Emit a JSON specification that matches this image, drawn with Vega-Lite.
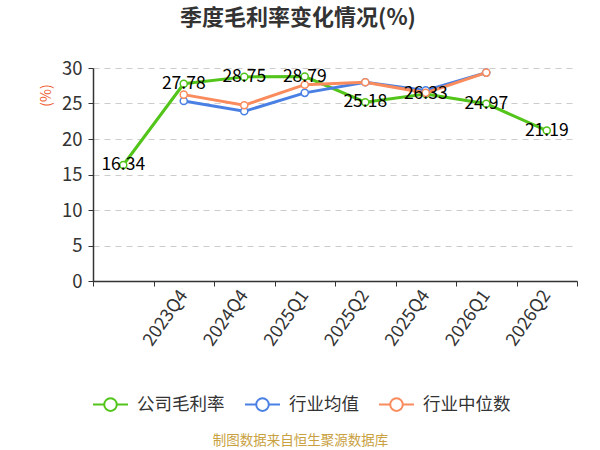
{
  "$schema": "https://vega.github.io/schema/vega-lite/v6.json",
  "autosize": "none",
  "width": 484,
  "height": 213,
  "padding": {"left": 93, "top": 68, "right": 23, "bottom": 169},
  "background": "white",
  "config": {
    "font": "Noto Sans CJK SC",
    "view": {"stroke": null}
  },
  "title": {
    "text": "季度毛利率变化情况(%)",
    "fontSize": 22,
    "fontWeight": "bold",
    "color": "#333333",
    "anchor": "middle",
    "frame": "group",
    "dx": -37,
    "offset": 29
  },
  "data": {
    "values": [
      {"q": " ", "series": "公司毛利率", "value": 16.34},
      {"q": "2023Q4", "series": "公司毛利率", "value": 27.78},
      {"q": "2024Q4", "series": "公司毛利率", "value": 28.75},
      {"q": "2025Q1", "series": "公司毛利率", "value": 28.79},
      {"q": "2025Q2", "series": "公司毛利率", "value": 25.18},
      {"q": "2025Q4", "series": "公司毛利率", "value": 26.33},
      {"q": "2026Q1", "series": "公司毛利率", "value": 24.97},
      {"q": "2026Q2", "series": "公司毛利率", "value": 21.19},
      {"q": "2023Q4", "series": "行业均值", "value": 25.35},
      {"q": "2024Q4", "series": "行业均值", "value": 23.9},
      {"q": "2025Q1", "series": "行业均值", "value": 26.5},
      {"q": "2025Q2", "series": "行业均值", "value": 28.0},
      {"q": "2025Q4", "series": "行业均值", "value": 26.85},
      {"q": "2026Q1", "series": "行业均值", "value": 29.35},
      {"q": "2023Q4", "series": "行业中位数", "value": 26.25},
      {"q": "2024Q4", "series": "行业中位数", "value": 24.75},
      {"q": "2025Q1", "series": "行业中位数", "value": 27.65},
      {"q": "2025Q2", "series": "行业中位数", "value": 28.0},
      {"q": "2025Q4", "series": "行业中位数", "value": 26.5},
      {"q": "2026Q1", "series": "行业中位数", "value": 29.35}
    ]
  },
  "encoding": {
    "x": {
      "field": "q",
      "type": "ordinal",
      "sort": [" ", "2023Q4", "2024Q4", "2025Q1", "2025Q2", "2025Q4", "2026Q1", "2026Q2"],
      "scale": {"paddingInner": 0, "paddingOuter": 0},
      "axis": {
        "title": "制图数据来自恒生聚源数据库",
        "titleColor": "#c9a141",
        "titleFontSize": 13.5,
        "titleFontWeight": "normal",
        "titleX": 207,
        "titleY": 159,
        "titleAlign": "center",
        "titleBaseline": "middle",
        "labelAngle": -55,
        "labelFontSize": 18,
        "labelColor": "#333333",
        "labelPadding": 6,
        "tickBand": "extent",
        "tickSize": 5,
        "tickColor": "#333333",
        "domainColor": "#333333",
        "domainWidth": 1.5,
        "grid": false
      }
    },
    "y": {
      "field": "value",
      "type": "quantitative",
      "scale": {"domain": [0, 30]},
      "axis": {
        "title": "(%)",
        "titleColor": "#ee5a2f",
        "titleFontSize": 14,
        "titleFontWeight": "normal",
        "titleX": -47,
        "titleY": 27,
        "titleAlign": "center",
        "titleBaseline": "middle",
        "values": [0, 5, 10, 15, 20, 25, 30],
        "labelFontSize": 18.5,
        "labelColor": "#333333",
        "labelPadding": 6,
        "tickSize": 5,
        "tickColor": "#333333",
        "domainColor": "#333333",
        "domainWidth": 1.5,
        "gridColor": "#cccccc",
        "gridDash": [6, 5]
      }
    }
  },
  "layer": [
    {
      "mark": {
        "type": "line",
        "strokeWidth": 3,
        "point": {"filled": false, "fill": "white", "size": 50, "strokeWidth": 1.5}
      },
      "encoding": {
        "color": {
          "field": "series",
          "type": "nominal",
          "scale": {
            "domain": ["公司毛利率", "行业均值", "行业中位数"],
            "range": ["#52c41a", "#4a80e3", "#f98b5c"]
          },
          "legend": {
            "title": null,
            "orient": "none",
            "direction": "horizontal",
            "legendX": -1,
            "legendY": 318,
            "symbolType": "M-1,0L-0.36,0M0.36,0L1,0M0.36,0A0.36,0.36,0,1,1,-0.36,0A0.36,0.36,0,1,1,0.36,0",
            "symbolSize": 1225,
            "symbolStrokeWidth": 2,
            "symbolFillColor": "white",
            "labelFontSize": 17.5,
            "labelColor": "#333333",
            "labelOffset": 8,
            "columnPadding": 16
          }
        }
      }
    },
    {
      "transform": [{"filter": "datum.series == '公司毛利率'"}],
      "mark": {"type": "text", "fontSize": 17.5, "color": "#000000", "align": "center", "baseline": "middle"},
      "encoding": {
        "text": {"field": "value", "type": "quantitative", "format": ".2f"}
      }
    }
  ]
}
